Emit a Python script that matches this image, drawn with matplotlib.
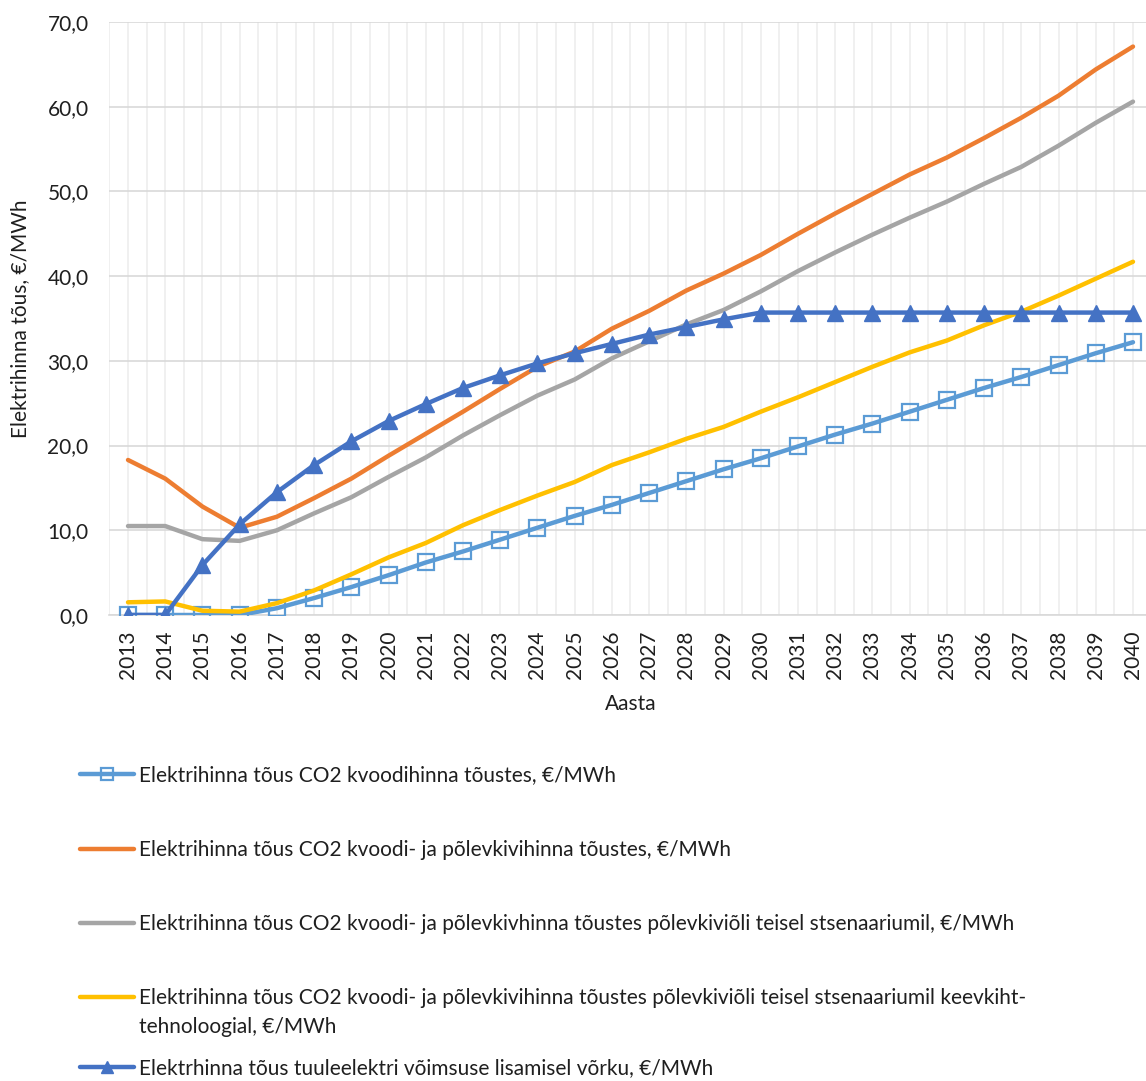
import numpy as np
import matplotlib
matplotlib.use("Agg")
import matplotlib.pyplot as plt
from matplotlib.ticker import MultipleLocator, FuncFormatter

plt.rcParams['font.family'] = ['Lato', 'DejaVu Sans']

years = list(range(2013, 2041))

co2 = [0.0, 0.0, 0.0, 0.0, 0.8, 2.0, 3.3, 4.7, 6.2, 7.5, 8.9, 10.3, 11.7, 13.0,
       14.4, 15.8, 17.2, 18.5, 19.9, 21.3, 22.6, 24.0, 25.4, 26.8, 28.1, 29.5,
       30.9, 32.2]
co2_oilshale = [18.3, 16.1, 12.8, 10.3, 11.6, 13.8, 16.1, 18.8, 21.4, 24.0, 26.7,
                29.3, 31.1, 33.8, 35.9, 38.3, 40.3, 42.5, 45.0, 47.4, 49.7, 52.0,
                54.0, 56.3, 58.7, 61.3, 64.4, 67.1]
co2_oilshale_scen2 = [10.5, 10.5, 8.95, 8.75, 10.0, 12.0, 13.9, 16.3, 18.6, 21.2,
                      23.6, 25.9, 27.8, 30.3, 32.3, 34.3, 36.0, 38.2, 40.6, 42.8,
                      44.9, 46.9, 48.8, 50.9, 52.9, 55.4, 58.1, 60.6]
co2_oilshale_cfb = [1.5, 1.6, 0.5, 0.4, 1.4, 2.9, 4.8, 6.8, 8.5, 10.6, 12.4, 14.1,
                    15.7, 17.7, 19.2, 20.8, 22.2, 24.0, 25.7, 27.5, 29.3, 31.0,
                    32.4, 34.2, 35.8, 37.7, 39.7, 41.7]
wind = [0.0, 0.0, 5.9, 10.7, 14.5, 17.7, 20.5, 22.9, 24.9, 26.8, 28.3, 29.7, 30.9,
        32.0, 33.1, 34.0, 34.9, 35.7, 35.7, 35.7, 35.7, 35.7, 35.7, 35.7, 35.7,
        35.7, 35.7, 35.7]

labels = [
    "Elektrihinna tõus CO2 kvoodihinna tõustes, €/MWh",
    "Elektrihinna tõus CO2 kvoodi- ja põlevkivihinna tõustes, €/MWh",
    "Elektrihinna tõus CO2 kvoodi- ja põlevkivhinna tõustes põlevkiviõli teisel stsenaariumil, €/MWh",
    "Elektrihinna tõus CO2 kvoodi- ja põlevkivihinna tõustes põlevkiviõli teisel stsenaariumil keevkiht-",
    "Elektrhinna tõus tuuleelektri võimsuse lisamisel võrku, €/MWh",
]
label_tail = "tehnoloogial, €/MWh"

text_col = "#1f1f1f"
fs = 15

W, H = 1146, 1081
fig = plt.figure(figsize=(W / 100, H / 100), dpi=100)
ax = fig.add_axes([109.4 / W, 1 - 615 / H, (1151.6 - 109.4) / W, (615 - 22) / H])

lw = 3.2
l1, = ax.plot(years, co2, color="#5B9BD5", lw=lw, marker="s", ms=11,
              mfc="none", mec="#5B9BD5", mew=1.6, solid_capstyle="round",
              solid_joinstyle="round", zorder=3)
l2, = ax.plot(years, co2_oilshale, color="#ED7D31", lw=lw,
              solid_capstyle="round", solid_joinstyle="round", zorder=3)
l3, = ax.plot(years, co2_oilshale_scen2, color="#A5A5A5", lw=lw,
              solid_capstyle="round", solid_joinstyle="round", zorder=3)
l4, = ax.plot(years, co2_oilshale_cfb, color="#FFC000", lw=lw,
              solid_capstyle="round", solid_joinstyle="round", zorder=3)
l5, = ax.plot(years, wind, color="#4472C4", lw=lw, marker="^", ms=12,
              mfc="#4472C4", mec="#4472C4", solid_capstyle="round",
              solid_joinstyle="round", zorder=4)

ax.set_xlim(2012.5, 2040.5)
ax.set_ylim(0, 70)
ax.xaxis.set_major_locator(MultipleLocator(1))
ax.xaxis.set_minor_locator(MultipleLocator(0.5))
ax.yaxis.set_major_locator(MultipleLocator(10))
ax.yaxis.set_major_formatter(FuncFormatter(lambda v, p: f"{v:.1f}".replace(".", ",")))

ax.grid(axis="y", which="major", color="#D9D9D9", lw=1.2, zorder=0)
ax.grid(axis="x", which="both", color="#EDEDED", lw=1.2, zorder=0)
ax.set_axisbelow(True)

for s in ["top", "right", "left"]:
    ax.spines[s].set_visible(False)
ax.spines["bottom"].set_color("#D9D9D9")
ax.spines["bottom"].set_linewidth(1.2)

ax.tick_params(axis="both", which="both", length=0, labelsize=fs, colors=text_col)
ax.tick_params(axis="y", pad=15)
ax.tick_params(axis="x", pad=11)
for t in ax.get_xticklabels():
    t.set_rotation(90)

ax.set_xlabel("Aasta", fontsize=fs, color=text_col)
ax.xaxis.set_label_coords(0.5, (615 - 694) / 593)
ax.set_ylabel("Elektrihinna tõus, €/MWh", fontsize=fs, color=text_col)
ax.yaxis.set_label_coords((30 - 109.4) / 1042.2, 0.5)

# legend: one entry per row, handles sit on the first text line
handles = [l1, l2, l3, l4, l5]
rows_y = [775, 850, 924, 998, 1068]
for h, lab, yy in zip(handles, labels, rows_y):
    fig.legend([h], [lab], loc="center left",
               bbox_to_anchor=(80 / W, 1 - yy / H),
               frameon=False, fontsize=fs, handlelength=2.6,
               handletextpad=0.25, borderpad=0, borderaxespad=0,
               markerscale=0.75, labelcolor=text_col)
fig.text(139 / W, 1 - 1027 / H, label_tail, fontsize=fs, color=text_col,
         va="center", ha="left")

fig.savefig("out.png", dpi=100)
